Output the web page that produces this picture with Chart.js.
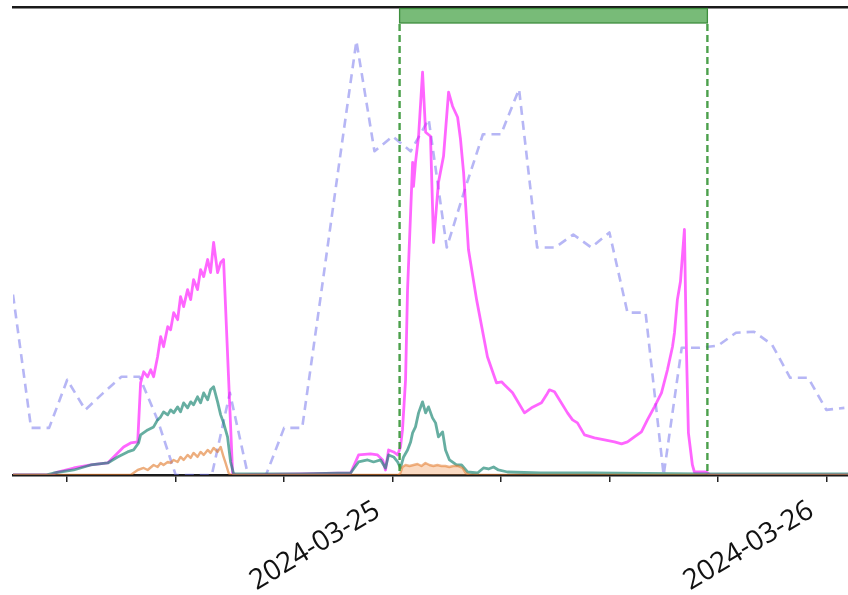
<!DOCTYPE html>
<html>
<head>
<meta charset="utf-8">
<script src="https://cdn.jsdelivr.net/npm/chart.js@4.4.1/dist/chart.umd.min.js"></script>
<style>
  html, body { margin: 0; padding: 0; background: #ffffff; }
  #wrap { width: 848px; height: 595px; position: relative; }
</style>
</head>
<body>
<div id="wrap"><canvas id="c" width="848" height="595"></canvas></div>
<script>
// Time axis: hours relative to 2024-03-25 00:00
const xMinHour = -21;
const xMaxHour = 25.2;
const tickHours = [0, 24];
const tickLabels = ['2024-03-25', '2024-03-26'];

// Highlighted period (hours)
const bandStart = 0.39;
const bandEnd = 17.42;

// Hourly series (dashed lavender)
const hourlyT = [-21,-20,-19,-18,-17,-16,-15,-14,-13,-12,-11,-10,-9,-8,-7,-6,-5,-4,-3,-2,-1,0,1,2,3,4,5,6,7,8,9,10,11,12,13,14,15,16,17,18,19,20,21,22,23,24,25];
const hourlyV = [180,47,47,95,65,82,98,98,55,0,0,0,82,0,0,47,47,175,305,433,323,338,323,355,227,285,340,340,385,227,227,240,227,242,162,162,0,127,127,129,142,143,130,97,97,65,67];

// Magenta series
const magentaT = [-21,-18.92,-18.53,-17.64,-16.70,-15.76,-15.21,-14.88,-14.49,-14.10,-13.94,-13.77,-13.55,-13.38,-13.22,-13.00,-12.83,-12.67,-12.44,-12.28,-12.11,-11.89,-11.73,-11.56,-11.34,-11.17,-11.01,-10.79,-10.62,-10.45,-10.23,-10.07,-9.90,-9.68,-9.51,-9.35,-8.85,-8.68,-5.09,-2.32,-1.88,-1.22,-0.83,-0.55,-0.39,-0.22,0.06,0.28,0.44,0.55,0.72,0.83,1.11,1.16,1.27,1.44,1.66,1.83,2.10,2.27,2.54,2.82,3.10,3.32,3.60,3.76,3.93,4.20,4.65,5.25,5.75,6.03,6.19,6.64,7.30,7.69,8.24,8.52,8.68,8.96,9.13,9.68,9.96,10.23,10.62,11.17,11.73,12.28,12.67,13.00,13.38,13.77,14.10,14.49,14.88,15.21,15.49,15.60,15.76,15.93,16.15,16.26,16.37,16.59,16.70,17.37,17.59,25.2];
const magentaV = [0,0,3,7,10,12,22,28,32,33,92,103,98,105,98,118,138,128,148,145,162,155,178,168,185,175,195,185,205,198,215,202,232,202,212,215,2,0,1,2,20,21,20,15,5,25,23,20,28,45,95,185,312,288,312,338,402,342,338,232,292,318,382,368,357,335,302,225,175,118,92,93,90,82,62,67,72,80,85,83,78,62,55,52,40,37,35,33,31,33,38,43,55,68,82,105,128,142,175,193,245,125,42,10,3,3,0,0];

// Teal series
const tealT = [-21,-19.19,-18.75,-17.64,-16.70,-15.76,-15.21,-14.66,-14.33,-14.05,-13.94,-13.55,-13.22,-13.00,-12.83,-12.67,-12.44,-12.28,-12.11,-11.89,-11.73,-11.56,-11.34,-11.17,-11.01,-10.79,-10.62,-10.45,-10.23,-10.07,-9.90,-9.68,-9.51,-9.35,-9.13,-8.96,-8.79,-5.09,-2.32,-1.88,-1.38,-1.05,-0.66,-0.39,-0.22,0.06,0.28,0.44,0.61,0.83,1.00,1.11,1.27,1.44,1.66,1.83,1.99,2.21,2.38,2.54,2.77,2.93,3.15,3.54,3.82,4.15,4.70,5.03,5.31,5.59,5.86,6.36,8.19,11.01,17.04,25.2];
const tealV = [0,0,2,5,10,12,18,23,25,32,40,45,48,55,58,63,60,65,62,68,63,72,67,73,70,78,72,82,75,85,88,73,60,52,38,13,1,1,2,13,15,13,15,7,20,18,13,7,18,25,33,42,48,62,73,62,68,57,52,38,43,25,15,10,10,3,2,7,6,8,5,3,2,2,1,1];

// Orange series, first episode
const orangeT = [-21,-14.49,-14.10,-13.77,-13.55,-13.22,-13.00,-12.83,-12.67,-12.44,-12.28,-12.11,-11.89,-11.73,-11.56,-11.34,-11.17,-11.01,-10.79,-10.62,-10.45,-10.23,-10.07,-9.90,-9.68,-9.51,-9.35,-9.24,-9.07,-8.96,0.33];
const orangeV = [0,0,5,7,5,10,8,12,10,13,12,15,13,18,15,20,17,22,18,23,20,25,22,27,23,28,18,12,2,0,0];
// Orange series, second episode
const orange2T = [0.33,0.44,0.55,0.72,0.94,1.16,1.38,1.60,1.82,2.04,2.26,2.48,2.70,2.92,3.14,3.36,3.60,3.87,4.04,4.31,25.2];
const orange2V = [0,2,8,10,9,10,11,9,12,10,9,10,9,9,8,9,9,7,2,0,0];

const yMax = 467;

function pts(t, v) { return t.map((x, i) => ({ x: x, y: v[i] })); }

const bandPlugin = {
  id: 'band',
  afterDatasetsDraw(chart) {
    const xs = chart.scales.x;
    const area = chart.chartArea;
    const ctx = chart.ctx;
    const x0 = xs.getPixelForValue(bandStart);
    const x1 = xs.getPixelForValue(bandEnd);
    const top = area.top + 1.5;
    const h = 14.5;
    ctx.save();
    ctx.fillStyle = '#78bb78';
    ctx.fillRect(x0, top, x1 - x0, h);
    ctx.strokeStyle = '#3e8e3e';
    ctx.lineWidth = 1.3;
    ctx.strokeRect(x0, top, x1 - x0, h);
    ctx.strokeStyle = 'rgba(55,150,55,0.9)';
    ctx.lineWidth = 2.4;
    ctx.setLineDash([7, 4]);
    [x0, x1].forEach(px => {
      ctx.beginPath();
      ctx.moveTo(px, top + h + 1);
      ctx.lineTo(px, area.bottom);
      ctx.stroke();
    });
    ctx.restore();
  }
};

const common = { pointRadius: 0, pointHoverRadius: 0, tension: 0, fill: false, borderJoinStyle: 'round', borderCapStyle: 'round' };

new Chart(document.getElementById('c'), {
  type: 'line',
  data: {
    datasets: [
      Object.assign({ label: 'orange', data: pts(orangeT, orangeV), borderColor: 'rgba(225,120,40,0.6)', borderWidth: 2.4 }, common),
      Object.assign({ label: 'orange2', data: pts(orange2T, orange2V), borderColor: 'rgba(225,120,40,0.55)', borderWidth: 2.4 }, common, { fill: 'origin', backgroundColor: 'rgba(240,150,80,0.35)' }),
      Object.assign({ label: 'teal', data: pts(tealT, tealV), borderColor: 'rgba(20,130,110,0.65)', borderWidth: 2.8 }, common),
      Object.assign({ label: 'magenta', data: pts(magentaT, magentaV), borderColor: 'rgba(255,0,255,0.6)', borderWidth: 2.8 }, common),
      Object.assign({ label: 'hourly', data: pts(hourlyT, hourlyV), borderColor: 'rgba(110,110,235,0.5)', borderWidth: 2.6, borderDash: [9, 6] }, common, { borderCapStyle: 'butt' })
    ]
  },
  options: {
    responsive: false,
    animation: false,
    events: [],
    layout: { padding: { left: 13, top: 7, right: 0, bottom: 0 } },
    plugins: { legend: { display: false }, tooltip: { enabled: false }, title: { display: false } },
    scales: {
      x: {
        type: 'linear',
        position: 'bottom',
        min: xMinHour,
        max: xMaxHour,
        afterFit: s => { s.height = 120; s.paddingLeft = 0; s.paddingRight = 0; },
        border: { display: true, color: '#1a1a1a', width: 2.5 },
        grid: { display: true, drawOnChartArea: false, drawTicks: true, tickLength: 7, color: '#222', lineWidth: 1.5 },
        ticks: {
          stepSize: 6,
          includeBounds: false,
          autoSkip: false,
          minRotation: 31,
          maxRotation: 31,
          padding: 12,
          labelOffset: -15,
          color: '#111',
          font: { family: 'Open Sans', size: 28 },
          callback: v => { const i = tickHours.indexOf(v); return i >= 0 ? tickLabels[i] : ''; }
        }
      },
      x2: {
        type: 'linear',
        position: 'top',
        min: xMinHour,
        max: xMaxHour,
        afterFit: s => { s.height = 0; s.paddingLeft = 0; s.paddingRight = 0; },
        border: { display: true, color: '#1a1a1a', width: 2.5 },
        grid: { display: false, drawTicks: false },
        ticks: { display: false }
      },
      y: {
        display: false,
        min: 0,
        max: yMax
      }
    }
  },
  plugins: [bandPlugin]
});
</script>
</body>
</html>
